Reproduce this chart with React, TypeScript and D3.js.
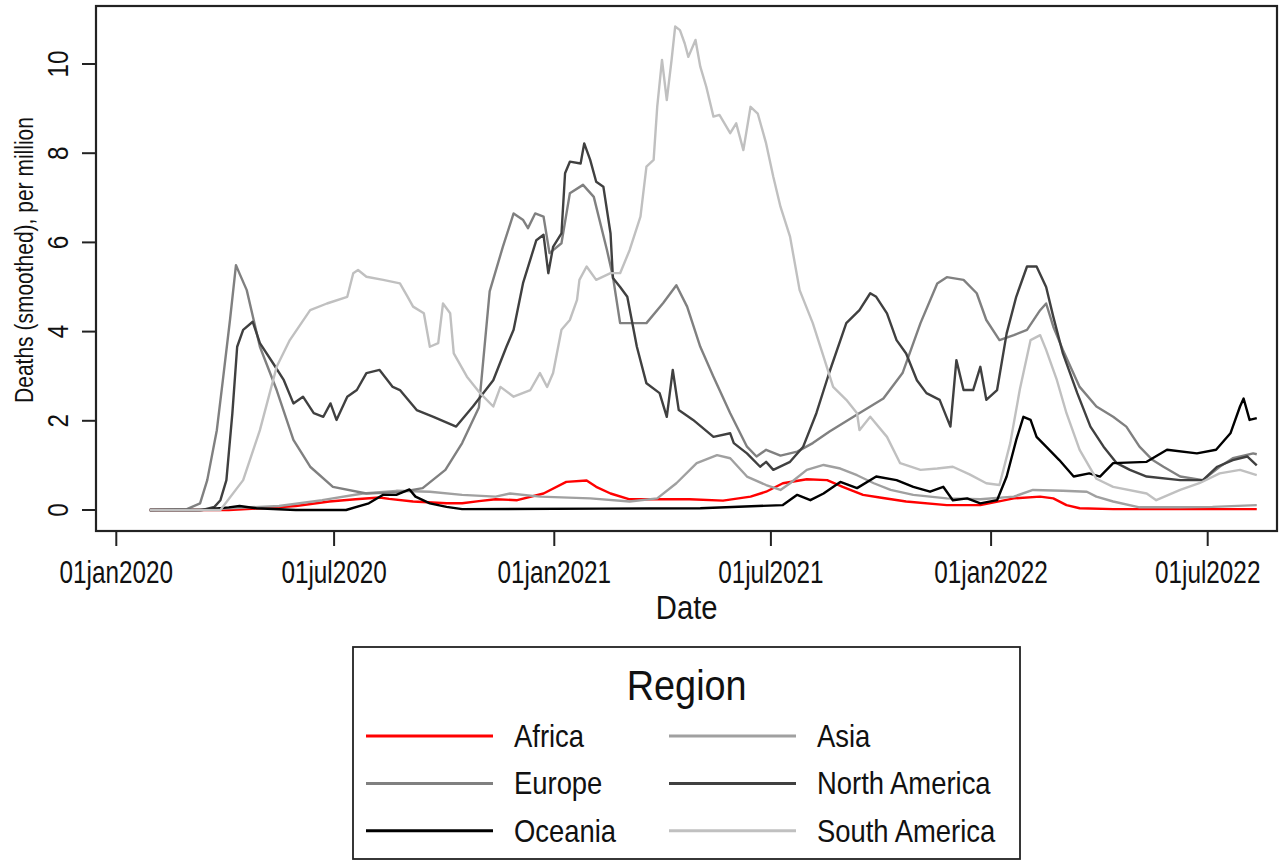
import React, { useRef, useEffect } from "react";
import * as d3 from "d3";

// x = days since 01jan2020, y = deaths (smoothed) per million
const africa: [number, number][] = [
  [28, 0], [67, 0], [94, 0], [122, 0.04], [150, 0.09], [178, 0.19], [200, 0.24], [220, 0.28],
  [228, 0.25], [248, 0.19], [276, 0.15], [289, 0.15], [303, 0.2], [317, 0.24], [335, 0.22],
  [357, 0.37], [376, 0.63], [393, 0.66], [401, 0.52], [413, 0.37], [429, 0.24], [452, 0.24],
  [479, 0.24], [507, 0.21], [530, 0.3], [543, 0.41], [557, 0.6], [577, 0.69], [594, 0.67],
  [607, 0.52], [624, 0.34], [638, 0.28], [660, 0.19], [694, 0.11], [722, 0.11], [750, 0.26],
  [772, 0.3], [783, 0.26], [794, 0.11], [805, 0.04], [833, 0.02], [953, 0.02],
];

const asia: [number, number][] = [
  [28, 0], [67, 0], [94, 0.04], [136, 0.09], [172, 0.22], [206, 0.37], [234, 0.43], [262, 0.41],
  [289, 0.34], [317, 0.3], [329, 0.37], [354, 0.3], [396, 0.26], [429, 0.19], [452, 0.26],
  [468, 0.6], [485, 1.05], [502, 1.23], [513, 1.16], [527, 0.75], [543, 0.56], [555, 0.45],
  [563, 0.6], [577, 0.9], [591, 1.01], [605, 0.93], [619, 0.78], [633, 0.6], [647, 0.45],
  [666, 0.34], [694, 0.26], [722, 0.24], [750, 0.3], [766, 0.45], [791, 0.43], [811, 0.41],
  [819, 0.3], [833, 0.19], [855, 0.06], [889, 0.06], [916, 0.07], [953, 0.11],
];

const europe: [number, number][] = [
  [28, 0], [59, 0.02], [70, 0.15], [76, 0.67], [84, 1.79], [89, 2.9], [95, 4.26], [100, 5.49],
  [103, 5.3], [109, 4.93], [120, 3.66], [134, 2.69], [148, 1.57], [162, 0.97], [181, 0.52],
  [209, 0.37], [237, 0.4], [256, 0.49], [275, 0.9], [289, 1.5], [303, 2.3], [312, 4.9],
  [323, 5.9], [332, 6.65], [340, 6.5], [344, 6.32], [350, 6.65], [357, 6.58], [362, 5.76],
  [372, 5.98], [379, 7.1], [390, 7.29], [399, 7.02], [410, 5.83], [415, 5.23], [421, 4.19],
  [443, 4.19], [457, 4.64], [468, 5.04], [477, 4.56], [488, 3.66], [499, 2.99], [513, 2.17],
  [527, 1.42], [535, 1.2], [543, 1.35], [555, 1.22], [569, 1.31], [582, 1.5], [596, 1.76],
  [616, 2.09], [641, 2.5], [657, 3.07], [672, 4.19], [686, 5.08], [694, 5.22], [708, 5.16],
  [719, 4.86], [727, 4.26], [738, 3.81], [750, 3.92], [761, 4.04], [772, 4.48], [777, 4.63],
  [783, 4.11], [791, 3.59], [805, 2.76], [819, 2.32], [833, 2.09], [844, 1.87], [855, 1.42],
  [866, 1.12], [875, 0.97], [889, 0.75], [908, 0.67], [922, 0.97], [933, 1.16], [950, 1.27],
  [953, 1.25],
];

const northAmerica: [number, number][] = [
  [28, 0], [72, 0], [82, 0.07], [87, 0.22], [92, 0.67], [97, 2.17], [101, 3.66], [106, 4.04],
  [114, 4.22], [120, 3.74], [131, 3.29], [140, 2.91], [148, 2.39], [156, 2.54], [165, 2.17],
  [173, 2.09], [179, 2.39], [184, 2.02], [193, 2.54], [201, 2.69], [209, 3.07], [220, 3.14],
  [231, 2.76], [237, 2.69], [251, 2.24], [265, 2.09], [284, 1.87], [298, 2.32], [315, 2.91],
  [326, 3.66], [332, 4.04], [340, 5.1], [351, 6.05], [357, 6.17], [361, 5.31], [365, 5.9],
  [372, 6.2], [375, 7.55], [379, 7.81], [388, 7.77], [391, 8.22], [396, 7.85], [401, 7.36],
  [407, 7.25], [413, 6.2], [415, 5.2], [421, 5.0], [427, 4.78], [435, 3.66], [443, 2.84],
  [454, 2.62], [460, 2.09], [465, 3.14], [470, 2.24], [482, 2.02], [499, 1.64], [513, 1.72],
  [516, 1.5], [527, 1.27], [538, 0.97], [543, 1.08], [549, 0.9], [563, 1.08], [574, 1.42],
  [585, 2.17], [596, 3.1], [610, 4.19], [621, 4.48], [630, 4.86], [635, 4.78], [644, 4.41],
  [652, 3.81], [660, 3.51], [669, 2.91], [677, 2.62], [688, 2.47], [697, 1.87], [702, 3.36],
  [708, 2.69], [716, 2.69], [722, 3.21], [727, 2.47], [736, 2.69], [744, 3.96], [752, 4.78],
  [761, 5.46], [769, 5.46], [777, 5.0], [783, 4.33], [791, 3.51], [803, 2.62], [814, 1.87],
  [825, 1.42], [836, 1.05], [847, 0.9], [861, 0.75], [889, 0.67], [908, 0.67], [920, 0.97],
  [933, 1.12], [945, 1.2], [953, 1.0],
];

const oceania: [number, number][] = [
  [28, 0], [70, 0], [94, 0.06], [103, 0.09], [117, 0.04], [150, 0], [192, 0], [211, 0.15],
  [223, 0.34], [234, 0.34], [245, 0.46], [250, 0.3], [262, 0.15], [276, 0.07], [289, 0.02],
  [404, 0.03], [488, 0.04], [557, 0.11], [569, 0.34], [580, 0.22], [591, 0.37], [605, 0.63],
  [619, 0.49], [635, 0.75], [652, 0.67], [666, 0.52], [680, 0.41], [691, 0.52], [699, 0.22],
  [711, 0.26], [722, 0.15], [736, 0.22], [744, 0.75], [752, 1.57], [758, 2.09], [764, 2.02],
  [769, 1.64], [777, 1.42], [788, 1.12], [800, 0.75], [813, 0.82], [822, 0.75], [833, 1.05],
  [861, 1.08], [878, 1.35], [903, 1.27], [919, 1.35], [931, 1.72], [939, 2.32], [942, 2.5],
  [947, 2.02], [953, 2.06],
];

const southAmerica: [number, number][] = [
  [28, 0], [87, 0], [106, 0.67], [120, 1.79], [134, 3.21], [145, 3.81], [162, 4.48],
  [176, 4.63], [193, 4.78], [198, 5.31], [202, 5.38], [209, 5.23], [223, 5.16], [237, 5.08],
  [243, 4.8], [248, 4.56], [257, 4.41], [262, 3.66], [269, 3.74], [273, 4.63], [279, 4.41],
  [282, 3.51], [293, 2.99], [304, 2.62], [315, 2.32], [321, 2.76], [332, 2.54], [346, 2.69],
  [354, 3.07], [360, 2.76], [365, 3.07], [372, 4.04], [379, 4.26], [385, 4.71], [387, 5.16],
  [393, 5.46], [401, 5.16], [413, 5.31], [421, 5.31], [429, 5.83], [438, 6.58], [443, 7.7],
  [449, 7.85], [452, 9.04], [456, 10.09], [460, 9.19], [464, 10.09], [467, 10.84], [471, 10.76],
  [475, 10.46], [478, 10.16], [484, 10.54], [488, 9.94], [493, 9.49], [499, 8.82], [504, 8.86],
  [513, 8.45], [518, 8.67], [524, 8.07], [530, 9.04], [536, 8.89], [543, 8.22], [549, 7.47],
  [555, 6.8], [563, 6.13], [571, 4.93], [582, 4.19], [591, 3.44], [599, 2.76], [610, 2.47],
  [619, 2.17], [621, 1.79], [630, 2.09], [644, 1.64], [655, 1.05], [672, 0.9], [686, 0.93],
  [699, 0.97], [713, 0.8], [727, 0.6], [738, 0.56], [747, 1.5], [755, 2.7], [764, 3.81],
  [772, 3.92], [777, 3.59], [786, 2.91], [794, 2.17], [805, 1.35], [819, 0.7], [833, 0.52],
  [861, 0.37], [869, 0.22], [889, 0.45], [905, 0.6], [922, 0.82], [939, 0.9], [953, 0.78],
];

const regionNames = ["Africa", "Asia", "Europe", "North America", "Oceania", "South America"];
const regionSeries = [africa, asia, europe, northAmerica, oceania, southAmerica];
const regionColors = ["#ff0000", "#a0a0a0", "#808080", "#404040", "#000000", "#c0c0c0"];

const xTickDates = ["2020-01-01", "2020-07-01", "2021-01-01", "2021-07-01", "2022-01-01", "2022-07-01"];
const xTickLabels = ["01jan2020", "01jul2020", "01jan2021", "01jul2021", "01jan2022", "01jul2022"];
const yTicks = [0, 2, 4, 6, 8, 10];

const FONT = "'Liberation Sans', Arial, Helvetica, sans-serif";

const App = () => {
  const svgRef = useRef<SVGSVGElement>(null);

  useEffect(() => {
    const svg = d3.select(svgRef.current);
    svg.selectAll("*").remove();

    const parse = d3.timeParse("%Y-%m-%d");
    const origin = new Date(2020, 0, 1);
    const toDate = (d: number) => d3.timeDay.offset(origin, d);

    const x = d3.scaleTime()
      .domain([parse("2020-01-01")!, parse("2022-07-01")!])
      .range([116.3, 1207.7]);
    const y = d3.scaleLinear().domain([0, 10]).range([510, 64]);

    // narrow font: glyphs are squeezed along the baseline
    function label(text: string, tx: number, ty: number, size: number, sx: number, rot = 0) {
      svg.append("text")
        .attr("transform", `translate(${tx},${ty}) rotate(${rot}) scale(${sx},1)`)
        .attr("text-anchor", "middle")
        .attr("font-family", FONT)
        .attr("font-size", size)
        .attr("fill", "#111")
        .text(text);
    }

    // plot region
    svg.append("rect")
      .attr("x", 96).attr("y", 6)
      .attr("width", 1181).attr("height", 525)
      .attr("fill", "none")
      .attr("stroke", "#222")
      .attr("stroke-width", 2.2);

    // lines
    const line = d3.line<[number, number]>()
      .x(d => x(toDate(d[0])))
      .y(d => y(d[1]));

    regionSeries.forEach((s, i) => {
      svg.append("path")
        .datum(s)
        .attr("d", line)
        .attr("fill", "none")
        .attr("stroke", regionColors[i])
        .attr("stroke-width", 2.4)
        .attr("stroke-linejoin", "round");
    });

    // y axis
    yTicks.forEach(t => {
      svg.append("line")
        .attr("x1", 82).attr("x2", 96)
        .attr("y1", y(t)).attr("y2", y(t))
        .attr("stroke", "#222").attr("stroke-width", 2);
      label(String(t), 68, y(t), 30, 0.81, -90);
    });
    label("Deaths (smoothed), per million", 33, 260, 25, 0.84, -90);

    // x axis
    xTickDates.forEach((ds, i) => {
      const px = x(parse(ds)!);
      svg.append("line")
        .attr("x1", px).attr("x2", px)
        .attr("y1", 531).attr("y2", 546)
        .attr("stroke", "#222").attr("stroke-width", 2);
      label(xTickLabels[i], px, 583, 32, 0.76);
    });
    label("Date", 686.7, 619, 34, 0.86);

    // legend
    svg.append("rect")
      .attr("x", 353).attr("y", 647)
      .attr("width", 667).attr("height", 212)
      .attr("fill", "none")
      .attr("stroke", "#222")
      .attr("stroke-width", 1.8);
    label("Region", 686.7, 700, 43, 0.88);

    regionNames.forEach((name, i) => {
      const row = Math.floor(i / 2);
      const col = i % 2;
      const ly = 736 + row * 47.4;
      const lx = col === 0 ? 366 : 669;
      svg.append("line")
        .attr("x1", lx).attr("x2", lx + 127)
        .attr("y1", ly).attr("y2", ly)
        .attr("stroke", regionColors[i])
        .attr("stroke-width", 3);
      svg.append("text")
        .attr("transform", `translate(${lx + 148},${ly + 11}) scale(0.87,1)`)
        .attr("font-family", FONT)
        .attr("font-size", 31.5)
        .attr("fill", "#111")
        .text(name);
    });
  }, []);

  return (
    <svg
      ref={svgRef}
      width={1283}
      height={862}
      style={{ position: "absolute", left: 0, top: 0, background: "#fff" }}
    ></svg>
  );
};

export default App;
